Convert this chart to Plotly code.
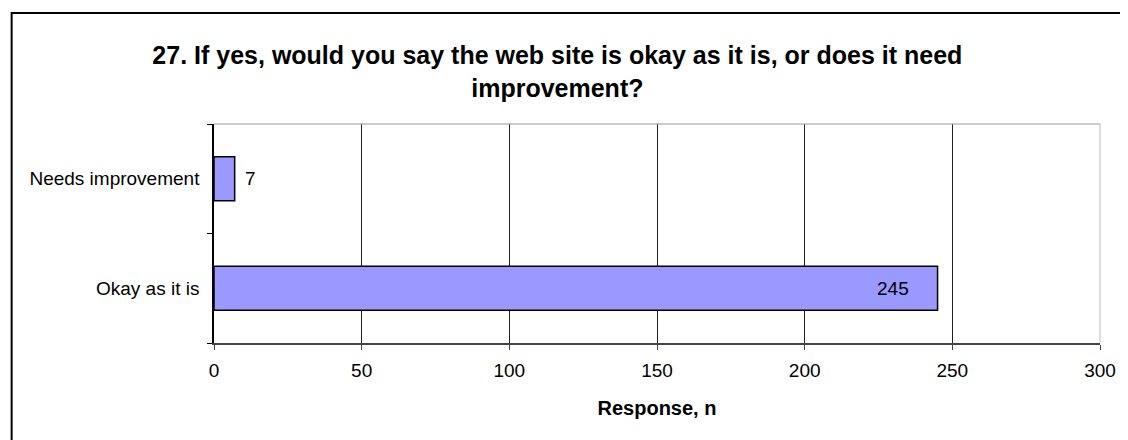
"""
Gráfico de barras horizontales: pregunta 27 de la encuesta
"""

import plotly.graph_objects as go

# Datos
categorias = ['Okay as it is', 'Needs improvement']
respuestas = [245, 7]
etiqueta_dentro = [True, False]

titulo = ('27. If yes, would you say the web site is okay as it is, or does it need'
          '<br>improvement?')

fig = go.Figure()

fig.add_trace(go.Bar(
    x=respuestas,
    y=categorias,
    orientation='h',
    marker=dict(color='#9999FF', line=dict(color='black', width=1.5)),
    showlegend=False,
    hovertemplate='%{y}: %{x}<extra></extra>',
))

# Etiquetas de datos (dentro al final de la barra o fuera de ella)
for cat, val, dentro in zip(categorias, respuestas, etiqueta_dentro):
    fig.add_annotation(
        x=val, y=cat,
        text=str(val),
        showarrow=False,
        xanchor='right' if dentro else 'left',
        xshift=-27 if dentro else 8,
        font=dict(size=19, color='black'),
    )

# La página tiene 8 px de margen en el body: se compensa en el tamaño
fig.update_layout(
    width=1120,
    height=432,
    margin=dict(l=206, r=18, t=116, b=97),
    paper_bgcolor='white',
    plot_bgcolor='white',
    font=dict(family='Liberation Sans, Arial, sans-serif', color='black'),
    title=dict(
        text=f'<b>{titulo}</b>',
        x=0.4905, xanchor='center',
        y=0.87, yanchor='top',
        font=dict(size=25, color='black'),
    ),
    bargap=0.6,
    xaxis=dict(
        range=[0, 300],
        dtick=50,
        showgrid=True,
        gridcolor='#222222',
        gridwidth=1,
        zeroline=False,
        showline=True,
        linecolor='#444444',
        linewidth=1.5,
        ticks='outside',
        ticklen=5,
        tickcolor='#444444',
        tickfont=dict(size=19),
        ticklabelstandoff=4,
        title=dict(text='<b>Response, n</b>', font=dict(size=20), standoff=21),
    ),
    yaxis=dict(
        type='category',
        tickson='boundaries',
        showgrid=False,
        showline=True,
        linecolor='black',
        linewidth=1.5,
        ticks='outside',
        ticklen=5,
        tickcolor='black',
        tickfont=dict(size=19),
        ticklabelstandoff=9,
    ),
    shapes=[
        # borde superior y derecho del área de trazado
        dict(type='line', xref='paper', yref='paper', x0=0, x1=1, y0=1, y1=1,
             line=dict(color='#999999', width=1)),
        dict(type='line', xref='paper', yref='paper', x0=1, x1=1, y0=0, y1=1,
             line=dict(color='#BBBBBB', width=1)),
        # marco exterior del gráfico
        dict(type='rect', xref='paper', yref='paper',
             x0=-0.2284, x1=1.05, y0=-0.5, y1=1.507,
             line=dict(color='black', width=2)),
    ],
)

fig.write_html("out.html")
